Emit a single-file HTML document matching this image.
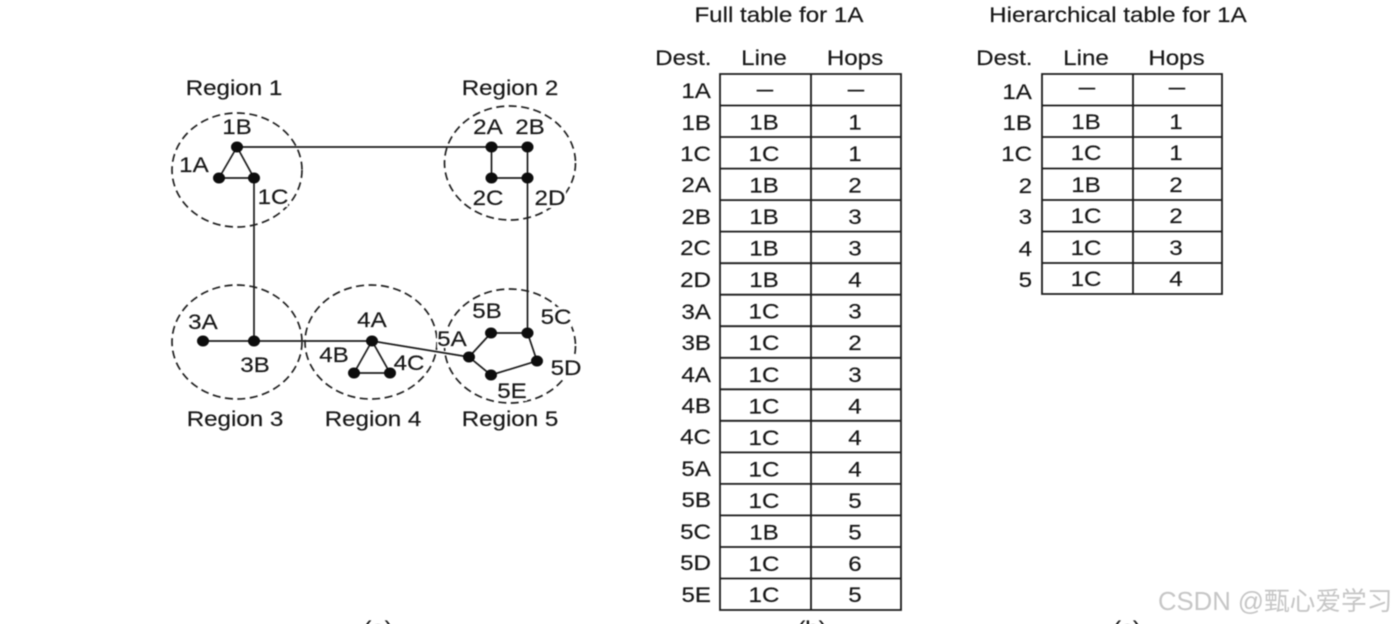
<!DOCTYPE html>
<html>
<head>
<meta charset="utf-8">
<style>
html,body{margin:0;padding:0;background:#fff;width:1396px;height:624px;overflow:hidden}
svg{display:block}
text{font-family:"Liberation Sans",sans-serif;font-size:21px;fill:#151515;stroke:#151515;stroke-width:.15px;text-anchor:middle;transform-box:fill-box;transform-origin:center;transform:scaleX(1.15)}
text.r{text-anchor:end;transform-origin:right center}
text.m{font-size:26px;stroke:none}
text.w{font-family:"Liberation Sans","Noto Sans CJK SC",sans-serif;font-size:25.7px;fill:#c6c6c6;stroke:none;text-anchor:start;transform:none}
.d{fill:none;stroke:#222;stroke-width:1.7;stroke-dasharray:8 4.5}
.l{fill:none;stroke:#1e1e1e;stroke-width:1.7}
.t{fill:none;stroke:#1a1a1a;stroke-width:1.8}
ellipse.n{fill:#0a0a0a}
</style>
</head>
<body>
<svg width="1396" height="624" viewBox="0 0 1396 624" xmlns="http://www.w3.org/2000/svg">
<defs>
<filter id="b" x="-2%" y="-2%" width="104%" height="104%"><feGaussianBlur stdDeviation="0.45"/></filter>
<mask id="gaps" maskUnits="userSpaceOnUse" x="0" y="0" width="1396" height="624">
<rect x="0" y="0" width="1396" height="624" fill="#fff"/>
<g fill="#000">
<rect x="259" y="187" width="29" height="20"/>
<rect x="472" y="188" width="32" height="20"/>
<rect x="535" y="188" width="31" height="20"/>
<rect x="394" y="353" width="31" height="20"/>
<rect x="437" y="329" width="31" height="19"/>
<rect x="541" y="307" width="31" height="20"/>
<rect x="551" y="358" width="31" height="20"/>
<rect x="497" y="381" width="30" height="20"/>
</g>
</mask>
</defs>
<g filter="url(#b)">
<!-- regions -->
<g mask="url(#gaps)">
<ellipse class="d" cx="237" cy="170" rx="65" ry="57"/>
<ellipse class="d" cx="510" cy="163" rx="65.500" ry="57"/>
<ellipse class="d" cx="237" cy="342" rx="65" ry="57"/>
<ellipse class="d" cx="371" cy="342" rx="66" ry="57"/>
<ellipse class="d" cx="510" cy="346" rx="65.500" ry="57"/>
</g>
<!-- links -->
<path class="l" d="M237 147L219 178H254L237 147H527.500V333M491.500 147V178H527.500M254 178V341M203 341H372L469 357M372 341L354 373H390L372 341M469 357L491 333H527.500L537 361L491 375L469 357"/>
<!-- nodes -->
<ellipse class="n" cx="237" cy="147" rx="6" ry="5.500"/>
<ellipse class="n" cx="219" cy="178" rx="6" ry="5.500"/>
<ellipse class="n" cx="254" cy="178" rx="6" ry="5.500"/>
<ellipse class="n" cx="491.500" cy="147" rx="6" ry="5.500"/>
<ellipse class="n" cx="527.500" cy="147" rx="6" ry="5.500"/>
<ellipse class="n" cx="491.500" cy="178" rx="6" ry="5.500"/>
<ellipse class="n" cx="527.500" cy="178" rx="6" ry="5.500"/>
<ellipse class="n" cx="203" cy="341" rx="6" ry="5.500"/>
<ellipse class="n" cx="254" cy="341" rx="6" ry="5.500"/>
<ellipse class="n" cx="372" cy="341" rx="6" ry="5.500"/>
<ellipse class="n" cx="354" cy="373" rx="6" ry="5.500"/>
<ellipse class="n" cx="390" cy="373" rx="6" ry="5.500"/>
<ellipse class="n" cx="469" cy="357" rx="6" ry="5.500"/>
<ellipse class="n" cx="491" cy="333" rx="6" ry="5.500"/>
<ellipse class="n" cx="527.500" cy="333" rx="6" ry="5.500"/>
<ellipse class="n" cx="537" cy="361" rx="6" ry="5.500"/>
<ellipse class="n" cx="491" cy="375" rx="6" ry="5.500"/>
<!-- region labels -->
<text x="234" y="95">Region 1</text>
<text x="510" y="95">Region 2</text>
<text x="235" y="426">Region 3</text>
<text x="373" y="426">Region 4</text>
<text x="510" y="426">Region 5</text>
<!-- node labels -->
<text x="237" y="134">1B</text>
<text x="194" y="172">1A</text>
<text x="273" y="204">1C</text>
<text x="488" y="134">2A</text>
<text x="530" y="134">2B</text>
<text x="488" y="205">2C</text>
<text x="550" y="205">2D</text>
<text x="203" y="329">3A</text>
<text x="255" y="372">3B</text>
<text x="372" y="327">4A</text>
<text x="334" y="362">4B</text>
<text x="409" y="370">4C</text>
<text x="452" y="346">5A</text>
<text x="487" y="318">5B</text>
<text x="556" y="324">5C</text>
<text x="566" y="375">5D</text>
<text x="512" y="398">5E</text>
<!-- full table -->
<text x="779" y="22">Full table for 1A</text>
<text class="r" x="711.500" y="65">Dest.</text>
<text x="764" y="65">Line</text>
<text x="855" y="65">Hops</text>
<path class="t" d="M720 74H901V610H720ZM811 74V610M720 105.500H901M720 137H901M720 168.600H901M720 200.100H901M720 231.600H901M720 263.200H901M720 294.700H901M720 326.200H901M720 357.800H901M720 389.300H901M720 420.800H901M720 452.400H901M720 483.900H901M720 515.400H901M720 547H901M720 578.500H901"/>
<text class="r" x="711" y="98">1A</text><text class="m" x="765" y="97">–</text><text class="m" x="856" y="97">–</text>
<text class="r" x="711" y="130">1B</text><text x="764" y="129.500">1B</text><text x="855" y="129.500">1</text>
<text class="r" x="711" y="161">1C</text><text x="764" y="161">1C</text><text x="855" y="161">1</text>
<text class="r" x="711" y="192">2A</text><text x="764" y="192.600">1B</text><text x="855" y="192.600">2</text>
<text class="r" x="711" y="224">2B</text><text x="764" y="224.100">1B</text><text x="855" y="224.100">3</text>
<text class="r" x="711" y="255">2C</text><text x="764" y="255.700">1B</text><text x="855" y="255.700">3</text>
<text class="r" x="711" y="287">2D</text><text x="764" y="287.200">1B</text><text x="855" y="287.200">4</text>
<text class="r" x="711" y="319">3A</text><text x="764" y="318.700">1C</text><text x="855" y="318.700">3</text>
<text class="r" x="711" y="350">3B</text><text x="764" y="350.200">1C</text><text x="855" y="350.200">2</text>
<text class="r" x="711" y="382">4A</text><text x="764" y="381.800">1C</text><text x="855" y="381.800">3</text>
<text class="r" x="711" y="413">4B</text><text x="764" y="413.300">1C</text><text x="855" y="413.300">4</text>
<text class="r" x="711" y="444">4C</text><text x="764" y="444.800">1C</text><text x="855" y="444.800">4</text>
<text class="r" x="711" y="476">5A</text><text x="764" y="476.400">1C</text><text x="855" y="476.400">4</text>
<text class="r" x="711" y="507">5B</text><text x="764" y="507.900">1C</text><text x="855" y="507.900">5</text>
<text class="r" x="711" y="539">5C</text><text x="764" y="539.400">1B</text><text x="855" y="539.400">5</text>
<text class="r" x="711" y="570">5D</text><text x="764" y="571">1C</text><text x="855" y="571">6</text>
<text class="r" x="711" y="602">5E</text><text x="764" y="602">1C</text><text x="855" y="602">5</text>
<!-- hierarchical table -->
<text x="1118" y="22">Hierarchical table for 1A</text>
<text class="r" x="1032.500" y="65">Dest.</text>
<text x="1086" y="65">Line</text>
<text x="1176.500" y="65">Hops</text>
<path class="t" d="M1042 74H1222V294H1042ZM1133 74V294M1042 105.500H1222M1042 137H1222M1042 168.500H1222M1042 200H1222M1042 231.500H1222M1042 263H1222"/>
<text class="r" x="1032" y="99">1A</text><text class="m" x="1087" y="95">–</text><text class="m" x="1177" y="95">–</text>
<text class="r" x="1032" y="130">1B</text><text x="1086" y="129">1B</text><text x="1176" y="129">1</text>
<text class="r" x="1032" y="161">1C</text><text x="1086" y="160">1C</text><text x="1176" y="160">1</text>
<text class="r" x="1032" y="193">2</text><text x="1086" y="192">1B</text><text x="1176" y="192">2</text>
<text class="r" x="1032" y="224">3</text><text x="1086" y="223">1C</text><text x="1176" y="223">2</text>
<text class="r" x="1032" y="256">4</text><text x="1086" y="255">1C</text><text x="1176" y="255">3</text>
<text class="r" x="1032" y="287">5</text><text x="1086" y="286">1C</text><text x="1176" y="286">4</text>
<!-- clipped captions -->
<text x="378" y="636">(a)</text>
<text x="812" y="636">(b)</text>
<text x="1127" y="636">(c)</text>
<!-- watermark -->
<text class="w" x="1158" y="610">CSDN @甄心爱学习</text>
</g>
</svg>
</body>
</html>
